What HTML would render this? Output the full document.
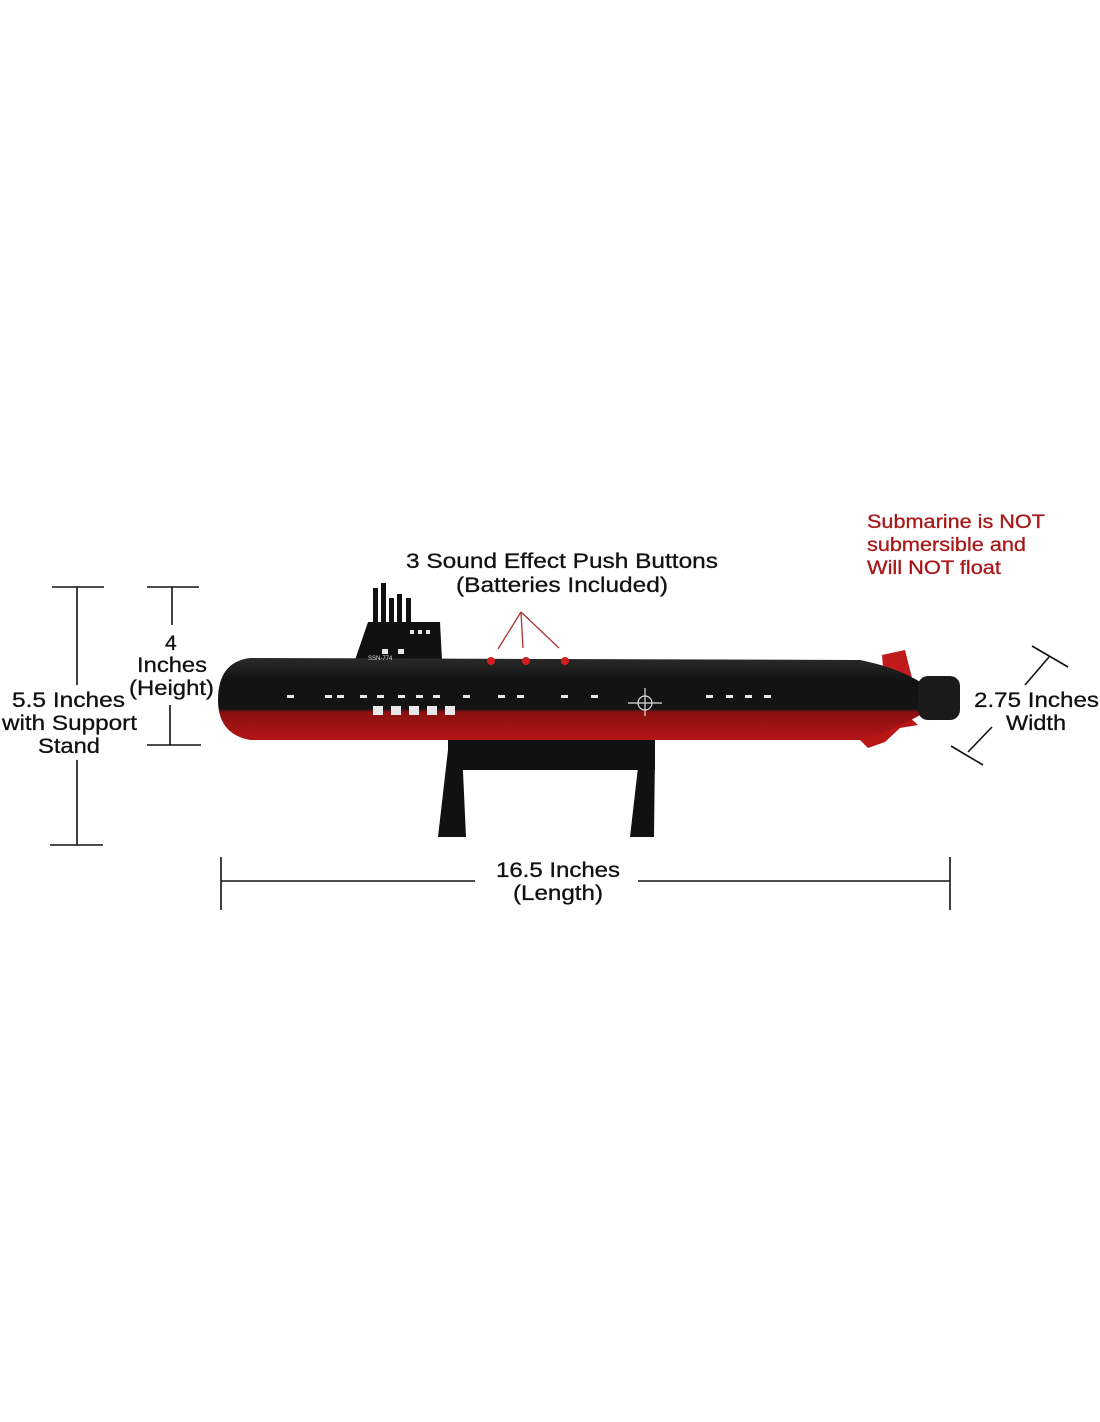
<!DOCTYPE html>
<html><head><style>
html,body{margin:0;padding:0;background:#fff;}
svg{display:block}
text{font-family:"Liberation Sans",Arial,sans-serif;}
</style></head><body>
<svg width="1100" height="1422" viewBox="0 0 1100 1422">
<defs>
<linearGradient id="hull" x1="0" y1="0" x2="0" y2="1">
<stop offset="0" stop-color="#2a2a2a"/><stop offset="0.3" stop-color="#111"/><stop offset="0.62" stop-color="#141414"/><stop offset="0.66" stop-color="#8a1010"/><stop offset="1" stop-color="#b21717"/>
</linearGradient>
</defs>
<g stroke="#111" stroke-width="1.6" fill="none">
<line x1="77" y1="587" x2="77" y2="685"/><line x1="77" y1="760" x2="77" y2="845"/><line x1="52" y1="587" x2="104" y2="587"/><line x1="50" y1="845" x2="103" y2="845"/>
<line x1="172" y1="587" x2="172" y2="625"/><line x1="147" y1="587" x2="199" y2="587"/>
<line x1="170" y1="705" x2="170" y2="745"/><line x1="147" y1="745" x2="201" y2="745"/>
<line x1="221" y1="881" x2="475" y2="881"/><line x1="638" y1="881" x2="950" y2="881"/>
<line x1="221" y1="857" x2="221" y2="910"/><line x1="950" y1="857" x2="950" y2="910"/>
<line x1="1032" y1="646" x2="1068" y2="667"/><line x1="1049" y1="657" x2="1025" y2="685"/>
<line x1="992" y1="727" x2="968" y2="752"/><line x1="951" y1="746" x2="983" y2="765"/>
</g>
<g stroke="#a33" stroke-width="1.3">
<line x1="521" y1="612" x2="498" y2="649"/><line x1="521" y1="612" x2="523" y2="648"/><line x1="521" y1="612" x2="559" y2="648"/>
</g>
<!-- stand -->
<g fill="#111">
<rect x="448" y="740" width="207" height="30"/>
<polygon points="448,750 462,750 466,837 438,837"/>
<polygon points="640,750 655,750 654,837 630,837"/>
</g>
<!-- masts & sail -->
<g fill="#111">
<rect x="373" y="588" width="5" height="40"/><rect x="381" y="583" width="5" height="45"/><rect x="389" y="598" width="5" height="30"/><rect x="397" y="594" width="5" height="34"/><rect x="406" y="598" width="5" height="30"/>
<polygon points="368,622 440,622 442,660 355,660"/>
</g>
<!-- tail fins -->
<polygon points="882,655 905,650 915,690 885,690" fill="#c01a1a"/>
<polygon points="860,705 890,700 918,725 900,728 885,742 868,748 860,740" fill="#b81515"/>
<!-- hull -->
<path d="M250,658 L860,660 Q900,668 925,685 L925,712 Q900,728 860,740 L250,740 Q218,734 218,700 Q218,662 250,658 Z" fill="url(#hull)"/>
<rect x="918" y="676" width="42" height="44" rx="10" fill="#1a1a1a"/>
<!-- details -->
<g fill="#e8e8e8">
<rect x="373" y="706" width="10" height="9"/><rect x="391" y="706" width="10" height="9"/><rect x="409" y="706" width="10" height="9"/><rect x="427" y="706" width="10" height="9"/><rect x="445" y="706" width="10" height="9"/>
<rect x="287" y="695" width="7" height="3"/><rect x="325" y="695" width="7" height="3"/><rect x="337" y="695" width="7" height="3"/><rect x="360" y="695" width="7" height="3"/><rect x="377" y="695" width="7" height="3"/><rect x="398" y="695" width="7" height="3"/>
<rect x="416" y="695" width="7" height="3"/><rect x="433" y="695" width="7" height="3"/><rect x="463" y="695" width="7" height="3"/><rect x="498" y="695" width="7" height="3"/><rect x="517" y="695" width="7" height="3"/><rect x="561" y="695" width="7" height="3"/><rect x="591" y="695" width="7" height="3"/>
<rect x="706" y="695" width="7" height="3"/><rect x="726" y="695" width="7" height="3"/><rect x="745" y="695" width="7" height="3"/><rect x="764" y="695" width="7" height="3"/>
<rect x="382" y="649" width="6" height="5"/><rect x="398" y="649" width="6" height="5"/><rect x="410" y="630" width="4" height="4"/><rect x="418" y="630" width="4" height="4"/><rect x="426" y="630" width="4" height="4"/>
</g>
<text x="368" y="660" font-size="6" fill="#ddd">SSN-774</text>
<g stroke="#ddd" stroke-width="1.2" fill="none"><circle cx="645" cy="703" r="7"/><line x1="628" y1="703" x2="662" y2="703"/><line x1="645" y1="688" x2="645" y2="716"/></g>
<g fill="#d01e1e"><circle cx="491" cy="661" r="4"/><circle cx="526" cy="661" r="4"/><circle cx="565" cy="661" r="4"/></g>
<!-- texts -->
<g font-size="21" fill="#111" stroke="#111" stroke-width="0.3" lengthAdjust="spacingAndGlyphs">
<text x="406" y="568" textLength="312" lengthAdjust="spacingAndGlyphs">3 Sound Effect Push Buttons</text>
<text x="456" y="592" textLength="212" lengthAdjust="spacingAndGlyphs">(Batteries Included)</text>
<text x="165" y="650">4</text>
<text x="137" y="672" textLength="70" lengthAdjust="spacingAndGlyphs">Inches</text>
<text x="129" y="695" textLength="85" lengthAdjust="spacingAndGlyphs">(Height)</text>
<text x="12" y="707" textLength="113" lengthAdjust="spacingAndGlyphs">5.5 Inches</text>
<text x="2" y="730" textLength="135" lengthAdjust="spacingAndGlyphs">with Support</text>
<text x="38" y="753" textLength="62" lengthAdjust="spacingAndGlyphs">Stand</text>
<text x="496" y="877" textLength="124" lengthAdjust="spacingAndGlyphs">16.5 Inches</text>
<text x="513" y="900" textLength="90" lengthAdjust="spacingAndGlyphs">(Length)</text>
<text x="974" y="707" textLength="125" lengthAdjust="spacingAndGlyphs">2.75 Inches</text>
<text x="1006" y="730" textLength="60" lengthAdjust="spacingAndGlyphs">Width</text>
</g>
<g font-size="19" fill="#a81818" stroke="#a81818" stroke-width="0.3">
<text x="867" y="528" textLength="178" lengthAdjust="spacingAndGlyphs">Submarine is NOT</text>
<text x="867" y="551" textLength="159" lengthAdjust="spacingAndGlyphs">submersible and</text>
<text x="867" y="574" textLength="134" lengthAdjust="spacingAndGlyphs">Will NOT float</text>
</g>
</svg>
</body></html>
